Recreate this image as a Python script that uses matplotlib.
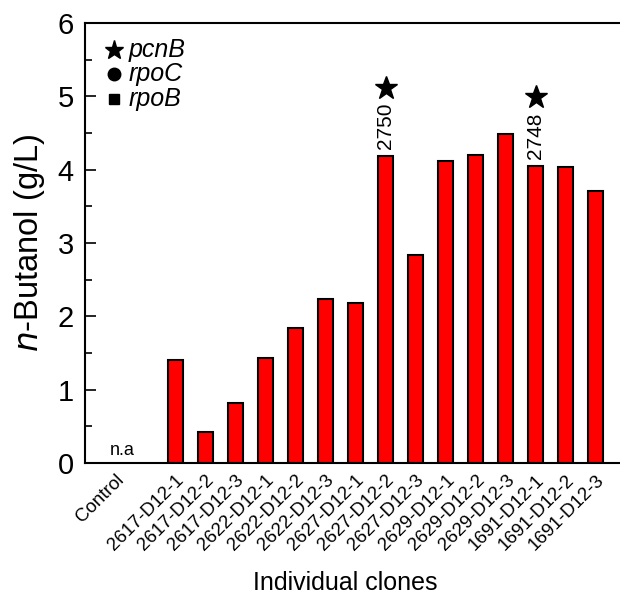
import matplotlib as mpl
mpl.use('Agg')
import matplotlib.pyplot as plt
from matplotlib.ticker import MultipleLocator

plt.rcParams['font.family'] = ['Liberation Sans', 'DejaVu Sans']

clones = ['2617-D12-1', '2617-D12-2', '2617-D12-3',
          '2622-D12-1', '2622-D12-2', '2622-D12-3',
          '2627-D12-1', '2627-D12-2', '2627-D12-3',
          '2629-D12-1', '2629-D12-2', '2629-D12-3',
          '1691-D12-1', '1691-D12-2', '1691-D12-3']
butanol = [1.40, 0.42, 0.82, 1.43, 1.84, 2.24, 2.18, 4.18, 2.83,
           4.12, 4.20, 4.49, 4.05, 4.04, 3.71]
# clones carrying a pcnB mutation, with the mutation label
pcnb_marks = {'2627-D12-2': '2750', '1691-D12-1': '2748'}

fig = plt.figure(figsize=(6.2, 5.96), dpi=100)
# axes runs off the right edge of the figure
ax = fig.add_axes([85/620, 1 - 463/596, 541/620, 440/596])

pos = list(range(3, 3 + len(clones)))
ax.bar(pos, butanol, width=0.5, color='#ff0000', edgecolor='black', linewidth=1.5, zorder=2)

ax.text(1.25, 0.05, 'n.a', ha='center', va='bottom', fontsize=13)

for name, lab in pcnb_marks.items():
    i = clones.index(name)
    x = pos[i]
    ax.text(x, butanol[i] + 0.1, lab, rotation=90, ha='center', va='bottom', fontsize=15)
    ax.plot(x, butanol[i] + 0.94, marker='*', color='black', markersize=17, clip_on=False)

# marker key
key = [('*', 'pcnB', 14), ('o', 'rpoC', 9), ('s', 'rpoB', 7)]
for k, (m, txt, ms) in enumerate(key):
    yk = 5.63 - k * 0.33
    ax.plot(0.95, yk, marker=m, color='black', markersize=ms, linestyle='none')
    ax.text(1.45, yk, txt, style='italic', va='center', fontsize=18)

ax.set_xlim(0, 18)
ax.set_ylim(0, 6)
ax.set_xticks([1] + pos)
ax.set_xticklabels(['Control'] + clones, rotation=45, ha='right', rotation_mode='anchor', fontsize=13.5)
ax.tick_params(axis='x', length=0, pad=6)
ax.yaxis.set_major_locator(MultipleLocator(1))
ax.yaxis.set_minor_locator(MultipleLocator(0.5))
ax.tick_params(axis='y', which='major', direction='in', length=8, width=1.2, labelsize=21, pad=8)
ax.tick_params(axis='y', which='minor', direction='in', length=5, width=1.2)
for s in ax.spines.values():
    s.set_linewidth(1.5)

ax.set_ylabel('$\\it{n}$-Butanol (g/L)', fontsize=23.5, labelpad=8)
fig.text(345/620, 1 - 583/596, 'Individual clones', ha='center', va='center', fontsize=18)

fig.savefig('out.png', dpi=100)
